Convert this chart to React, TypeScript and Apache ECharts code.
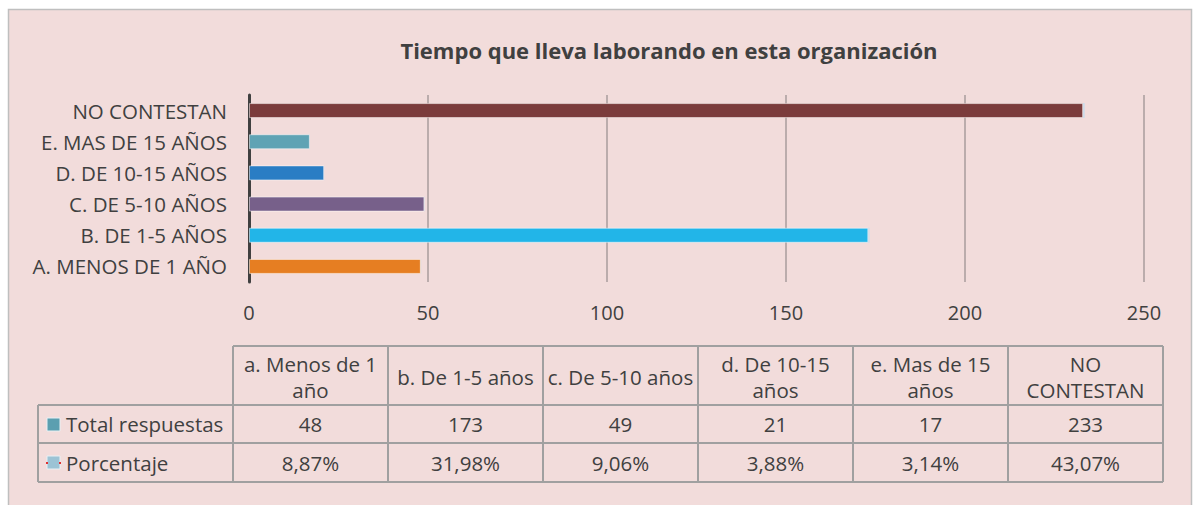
import React, { useEffect, useRef } from "react";
import * as echarts from "echarts";

const titleText = "Tiempo que lleva laborando en esta organización";
const categories = [
  "A. MENOS DE 1 AÑO",
  "B. DE 1-5 AÑOS",
  "C. DE 5-10 AÑOS",
  "D. DE 10-15 AÑOS",
  "E. MAS DE 15 AÑOS",
  "NO CONTESTAN",
];
const tableHeaders = [
  "a. Menos de 1\naño",
  "b. De 1-5 años",
  "c. De 5-10 años",
  "d. De 10-15\naños",
  "e. Mas de 15\naños",
  "NO\nCONTESTAN",
];
const seriesNames = ["Total respuestas", "Porcentaje"];
const totals = [48, 173, 49, 21, 17, 233];
const percents = [8.87, 31.98, 9.06, 3.88, 3.14, 43.07];
const barColors = ["#E67E22", "#22B5E8", "#77608A", "#2A7DC4", "#5FA3B4", "#7B3C3C"];
const xTicks = [0, 50, 100, 150, 200, 250];

const FONT = "'Open Sans', sans-serif";
const TXT = "#404040";

export default function App() {
  const ref = useRef<HTMLDivElement>(null);
  useEffect(() => {
    document.body.style.margin = "0";
    const chart = echarts.init(ref.current!, null, { renderer: "svg" });

    const graphics: any[] = [];
    graphics.push({
      type: "rect",
      z: -10,
      silent: true,
      shape: { x: 8.5, y: 9.5, width: 1183, height: 500 },
      style: { fill: "#F2DCDB", stroke: "#BFBFBF", lineWidth: 1.5 },
    });

    const colX0 = 233;
    const colW = 155;
    const legendX0 = 38;
    const rowY = [346, 405, 443, 482];
    const lineStyle = { stroke: "#A0A0A0", lineWidth: 2 };
    const addLine = (x1: number, y1: number, x2: number, y2: number) =>
      graphics.push({ type: "line", shape: { x1, y1, x2, y2 }, style: lineStyle, silent: true });
    const colEnd = colX0 + colW * tableHeaders.length;
    addLine(colX0, rowY[0], colEnd, rowY[0]);
    addLine(legendX0, rowY[1], colEnd, rowY[1]);
    addLine(legendX0, rowY[2], colEnd, rowY[2]);
    addLine(legendX0, rowY[3], colEnd, rowY[3]);
    addLine(legendX0, rowY[1], legendX0, rowY[3]);
    for (let i = 0; i <= tableHeaders.length; i++) {
      addLine(colX0 + colW * i, rowY[0], colX0 + colW * i, rowY[3]);
    }
    const cellText = (txt: string, cx: number, cy: number, align = "center") =>
      graphics.push({
        type: "text",
        silent: true,
        style: {
          text: txt,
          x: cx,
          y: cy,
          align,
          verticalAlign: "middle",
          fontFamily: FONT,
          fontSize: 20.5,
          lineHeight: 26,
          fill: TXT,
        },
      });
    tableHeaders.forEach((h, i) => {
      cellText(h, colX0 + colW * i + colW / 2, (rowY[0] + rowY[1]) / 2 + 1);
      cellText(String(totals[i]), colX0 + colW * i + colW / 2, (rowY[1] + rowY[2]) / 2);
      cellText(
        percents[i].toFixed(2).replace(".", ",") + "%",
        colX0 + colW * i + colW / 2,
        (rowY[2] + rowY[3]) / 2
      );
    });
    graphics.push({
      type: "rect",
      silent: true,
      shape: { x: 47, y: 418, width: 13, height: 13 },
      style: { fill: "#5B9FB0", stroke: "#E8F0F4", lineWidth: 1 },
    });
    graphics.push({
      type: "rect",
      silent: true,
      shape: { x: 47, y: 456, width: 13, height: 13 },
      style: { fill: "#9CC3D5", stroke: "#E8F0F4", lineWidth: 1 },
    });
    graphics.push({ type: "rect", silent: true, shape: { x: 46, y: 462, width: 2, height: 2 }, style: { fill: "#E03030" } });
    graphics.push({ type: "rect", silent: true, shape: { x: 59, y: 462, width: 2, height: 2 }, style: { fill: "#E03030" } });
    cellText(seriesNames[0], 66, (rowY[1] + rowY[2]) / 2, "left");
    cellText(seriesNames[1], 66, (rowY[2] + rowY[3]) / 2, "left");

    chart.setOption({
      animation: false,
      backgroundColor: "transparent",
      title: {
        text: titleText,
        left: 664,
        textAlign: "center",
        top: 34,
        textStyle: { fontFamily: FONT, fontSize: 22, fontWeight: "bold", color: TXT },
      },
      grid: { left: 249, top: 95, width: 895, height: 187, containLabel: false },
      xAxis: {
        type: "value",
        min: xTicks[0],
        max: xTicks[xTicks.length - 1],
        interval: 50,
        axisLine: { show: false },
        axisTick: { show: false },
        splitLine: { show: true, lineStyle: { color: "#A89C9C", width: 1.5 } },
        axisLabel: { fontFamily: FONT, fontSize: 20, color: TXT, margin: 20 },
      },
      yAxis: {
        type: "category",
        data: categories,
        axisLine: { show: true, lineStyle: { color: "#404040", width: 3 } },
        axisTick: { show: false },
        axisLabel: { fontFamily: FONT, fontSize: 20.5, color: TXT, margin: 22 },
      },
      series: [
        {
          name: seriesNames[0],
          type: "bar",
          stack: "s",
          barWidth: 15,
          data: totals.map((v, i) => ({ value: v, itemStyle: { color: barColors[i] } })),
          itemStyle: { borderColor: "rgba(255,255,255,0.5)", borderWidth: 1 },
        },
        {
          name: seriesNames[1],
          type: "bar",
          stack: "s",
          barWidth: 15,
          data: percents.map((p) => p / 100),
          itemStyle: { color: "#C9DCEB" },
        },
      ],
      graphic: graphics,
    });
    return () => chart.dispose();
  }, []);
  return <div ref={ref} style={{ width: 1194, height: 505 }} />;
}
